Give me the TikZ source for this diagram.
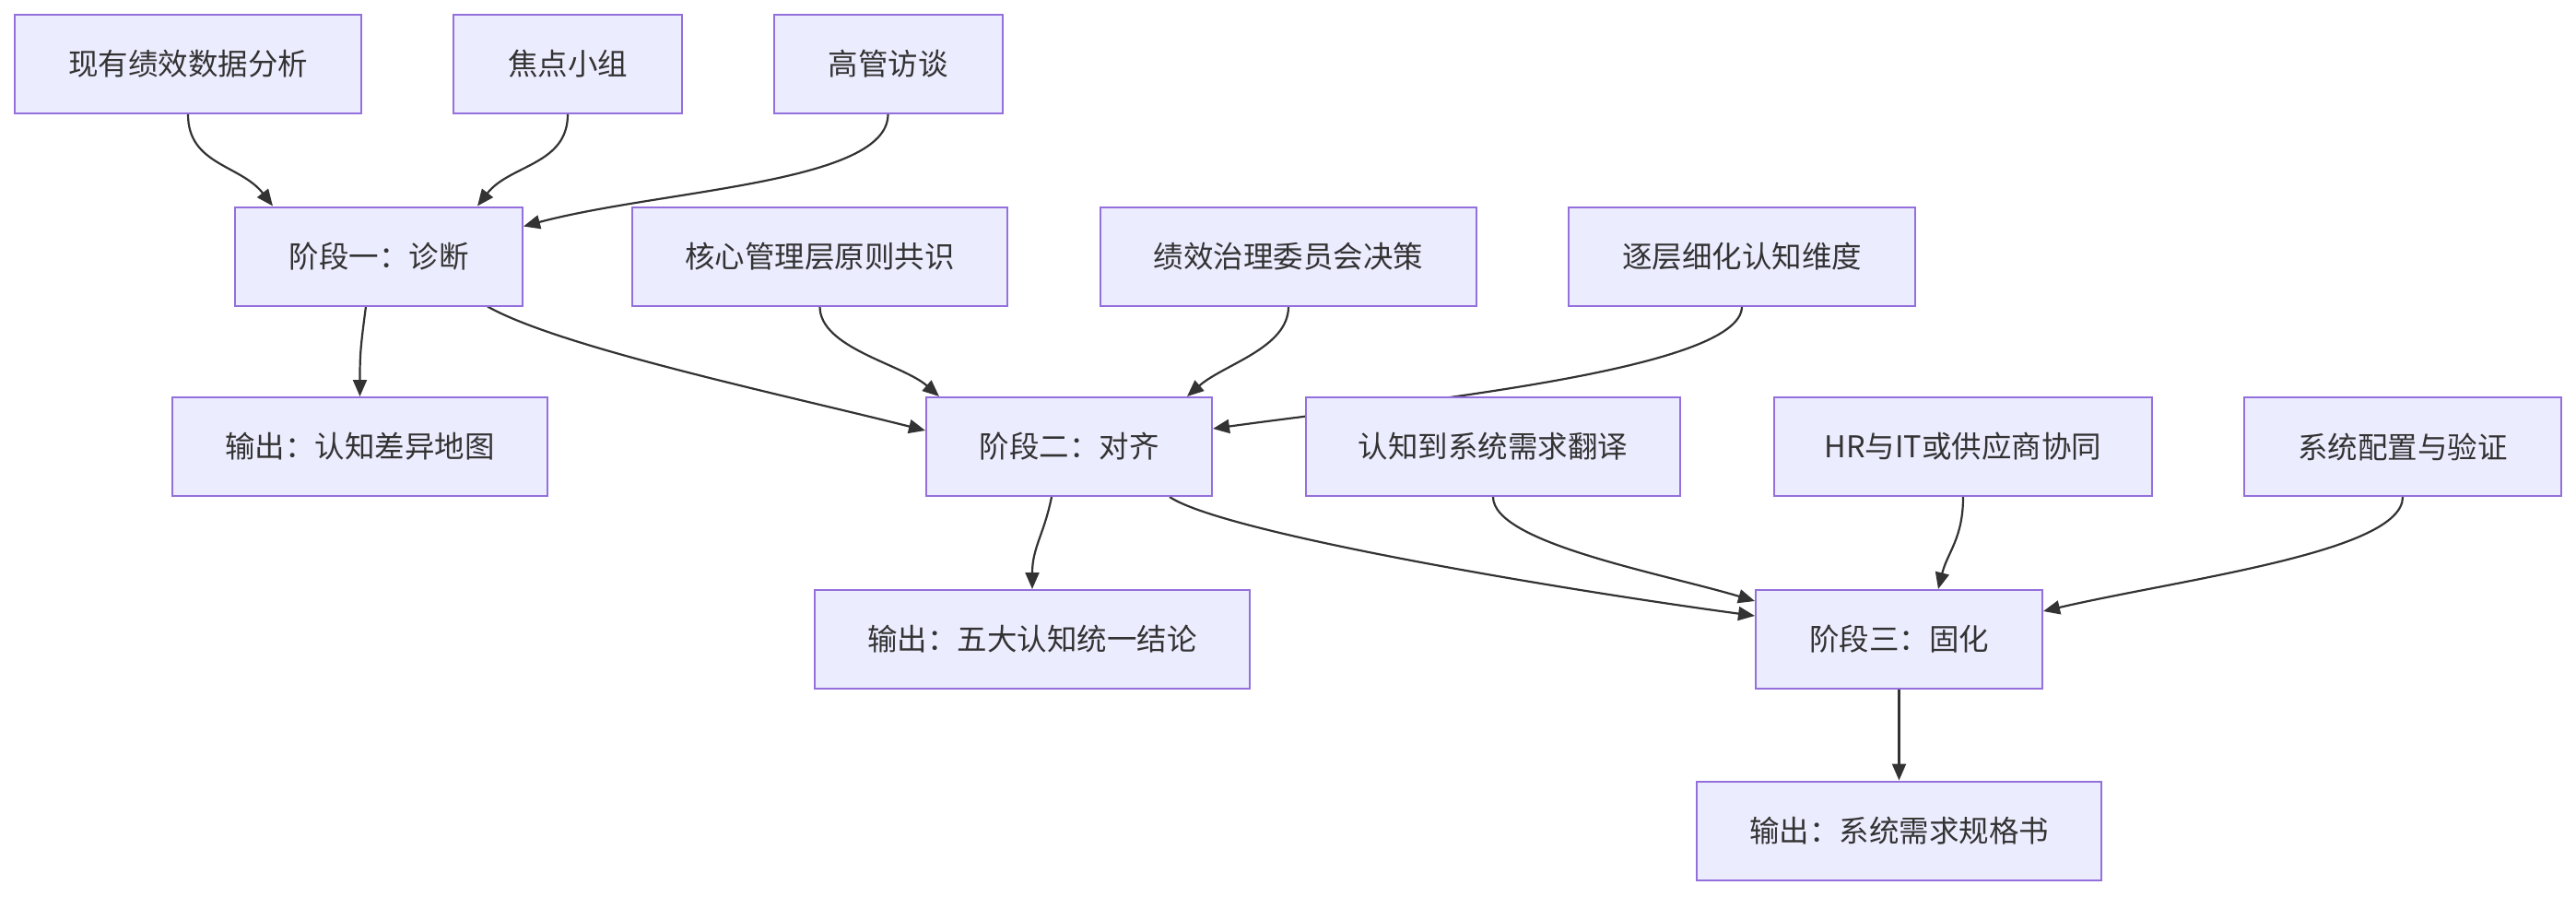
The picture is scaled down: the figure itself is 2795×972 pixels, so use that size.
\documentclass[tikz,border=0pt]{standalone}
\usepackage{fontspec}
\setmainfont{Noto Sans CJK SC}
\usetikzlibrary{arrows.meta,calc,backgrounds}
\definecolor{boxfill}{HTML}{ECECFF}
\definecolor{boxline}{HTML}{9370DB}
\definecolor{ink}{HTML}{333333}
\begin{document}
\begin{tikzpicture}[x=1pt,y=-1pt,
  box/.style={draw=boxline,fill=boxfill,line width=2pt,minimum height=107pt,inner sep=0pt,text=ink,font=\fontsize{32.5}{38}\selectfont},
  edge/.style={draw=ink,line width=2.2pt,-{Triangle[length=18pt,width=15pt]}}]
\useasboundingbox (0,0) rectangle (2795,972);
\node[box,minimum width=376pt] (A) at (204,69.5) {现有绩效数据分析};
\node[box,minimum width=248pt] (B) at (616,69.5) {焦点小组};
\node[box,minimum width=248pt] (C) at (963.5,69.5) {高管访谈};
\node[box,minimum width=312pt] (S1) at (411,278) {阶段一：诊断};
\node[box,minimum width=407pt] (D) at (889.5,278) {核心管理层原则共识};
\node[box,minimum width=408pt] (E) at (1398,278) {绩效治理委员会决策};
\node[box,minimum width=376pt] (F) at (1890,278) {逐层细化认知维度};
\node[box,minimum width=407pt] (O1) at (390.5,484.5) {输出：认知差异地图};
\node[box,minimum width=310pt] (S2) at (1160,484.5) {阶段二：对齐};
\node[box,minimum width=406pt] (G) at (1620,484.5) {认知到系统需求翻译};
\node[box,minimum width=410pt] (H) at (2130,484.5) {HR与IT或供应商协同};
\node[box,minimum width=344pt] (I) at (2607,484.5) {系统配置与验证};
\node[box,minimum width=472pt] (O2) at (1120,693.5) {输出：五大认知统一结论};
\node[box,minimum width=311pt] (S3) at (2060.5,693.5) {阶段三：固化};
\node[box,minimum width=439pt] (O3) at (2060.5,901) {输出：系统需求规格书};
\begin{scope}[on background layer]
\draw[edge] (A.south) .. controls +(0,55) and +(-35,-45) .. ($(S1.north west)+(42,0)$);
\draw[edge] (B.south) .. controls +(0,55) and +(35,-45) .. ($(S1.north east)+(-50,0)$);
\draw[edge] (C.south) .. controls +(0,75) and +(150,-40) .. ($(S1.north east)+(0,22)$);
\draw[edge] ($(S1.south)+(-14,0)$) .. controls +(-6,45) and +(0,-45) .. (O1.north);
\draw[edge] ($(S1.south)+(118,0)$) .. controls +(80,45) and +(-150,-38) .. ($(S2.west)+(0,-17.5)$);
\draw[edge] (D.south) .. controls +(0,45) and +(-40,-35) .. ($(S2.north west)+(15,0)$);
\draw[edge] (E.south) .. controls +(0,45) and +(40,-35) .. ($(S2.north east)+(-28,0)$);
\draw[edge] (F.south) .. controls +(0,70) and +(200,-28) .. ($(S2.east)+(0,-19.5)$);
\draw[edge] ($(S2.south)+(-19,0)$) .. controls +(-8,40) and +(0,-45) .. (O2.north);
\draw[edge] ($(S2.south)+(109,0)$) .. controls +(60,40) and +(-200,-27) .. ($(S3.west)+(0,-25.5)$);
\draw[edge] (G.south) .. controls +(0,50) and +(-100,-30) .. ($(S3.west)+(0,-41.5)$);
\draw[edge] (H.south) .. controls +(0,45) and +(10,-40) .. ($(S3.north)+(42.5,0)$);
\draw[edge] (I.south) .. controls +(0,60) and +(150,-35) .. ($(S3.east)+(0,-30.5)$);
\draw[edge] (S3.south) -- (O3.north);
\end{scope}
\end{tikzpicture}
\end{document}
